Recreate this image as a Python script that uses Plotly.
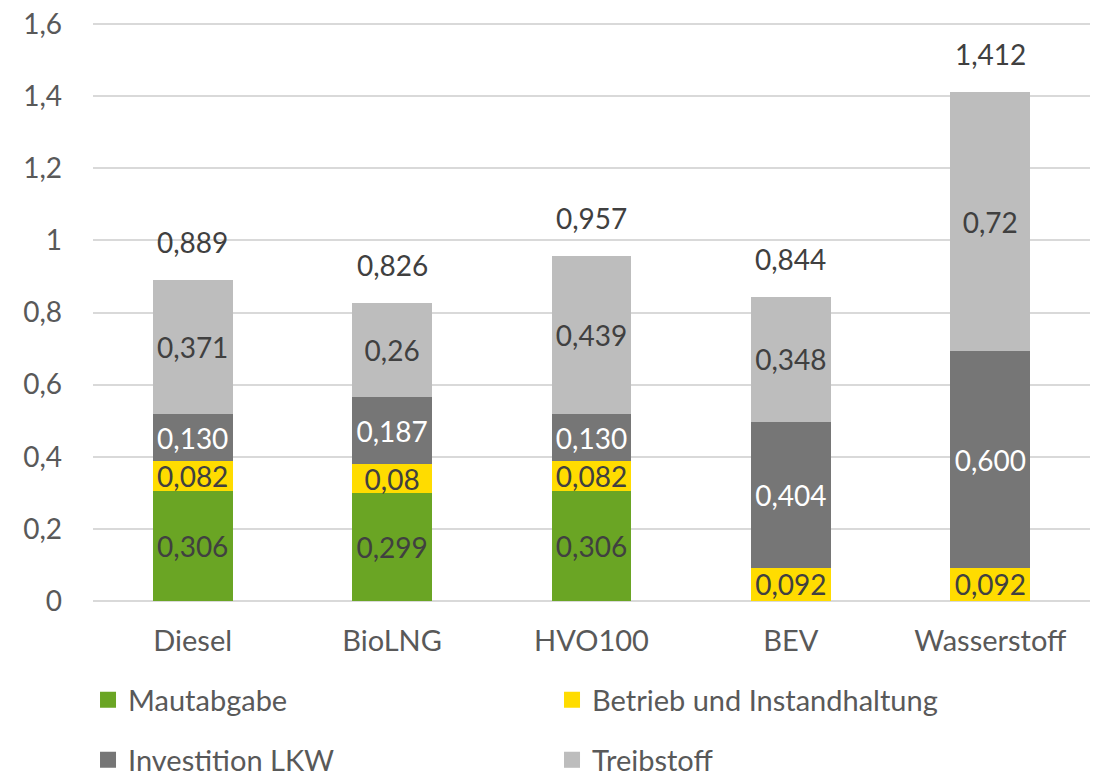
import plotly.graph_objects as go

categories = ["Diesel", "BioLNG", "HVO100", "BEV", "Wasserstoff"]
maut = [0.306, 0.299, 0.306, 0, 0]
betrieb = [0.082, 0.08, 0.082, 0.092, 0.092]
invest = [0.130, 0.187, 0.130, 0.404, 0.600]
treib = [0.371, 0.26, 0.439, 0.348, 0.72]
totals = [0.889, 0.826, 0.957, 0.844, 1.412]

maut_lbl = ["0,306", "0,299", "0,306", "", ""]
betrieb_lbl = ["0,082", "0,08", "0,082", "0,092", "0,092"]
invest_lbl = ["0,130", "0,187", "0,130", "0,404", "0,600"]
treib_lbl = ["0,371", "0,26", "0,439", "0,348", "0,72"]
total_lbl = ["0,889", "0,826", "0,957", "0,844", "1,412"]

y_tickvals = [0, 0.2, 0.4, 0.6, 0.8, 1.0, 1.2, 1.4, 1.6]
y_ticktext = ["0", "0,2", "0,4", "0,6", "0,8", "1", "1,2", "1,4", "1,6"]

FONT = "Lato"
fs = 28      # numbers
fs_txt = 29  # words (categories, legend)

series = [
    ("Mautabgabe", maut, maut_lbl, "#6AA524", "#404040", "legend"),
    ("Betrieb und Instandhaltung", betrieb, betrieb_lbl, "#FFDC00", "#404040", "legend"),
    ("Investition LKW", invest, invest_lbl, "#767676", "#FFFFFF", "legend2"),
    ("Treibstoff", treib, treib_lbl, "#BDBDBD", "#404040", "legend2"),
]

fig = go.Figure()
for name, vals, lbls, col, tcol, lg in series:
    fig.add_trace(go.Bar(
        x=categories, y=vals, name=name, marker=dict(color=col, line=dict(width=0)),
        text=lbls, textposition="inside", insidetextanchor="middle",
        textangle=0, constraintext="none",
        textfont=dict(family=FONT, size=fs, color=tcol),
        hoverinfo="skip", showlegend=False,
    ))
    fig.add_trace(go.Scatter(
        x=[None], y=[None], mode="markers", name=name, legend=lg,
        marker=dict(symbol="square", size=17, color=col),
        hoverinfo="skip",
    ))

for cat, tot, lbl in zip(categories, totals, total_lbl):
    fig.add_annotation(x=cat, y=tot, text=lbl, showarrow=False,
                       yanchor="middle", yshift=38,
                       font=dict(family=FONT, size=fs, color="#404040"))

legend_common = dict(
    orientation="h", xanchor="left", yanchor="middle",
    entrywidth=419, entrywidthmode="pixels",
    font=dict(family=FONT, size=fs_txt, color="#595959"),
    traceorder="normal", itemsizing="trace",
    bgcolor="rgba(0,0,0,0)",
)

fig.update_layout(
    barmode="stack", bargap=0.6,
    width=1096, height=766,
    margin=dict(l=85, r=14, t=15, b=173, autoexpand=False),
    paper_bgcolor="white", plot_bgcolor="white",
    font=dict(family=FONT, size=fs, color="#595959"),
    uniformtext=dict(mode="show", minsize=fs),
    legend=dict(x=-0.005, y=-0.171, **legend_common),
    legend2=dict(x=-0.005, y=-0.275, **legend_common),
    showlegend=True,
)
fig.update_yaxes(range=[0, 1.603], tickvals=y_tickvals, ticktext=y_ticktext,
                 showgrid=True, gridcolor="#D9D9D9", gridwidth=2,
                 zeroline=True, zerolinecolor="#D9D9D9", zerolinewidth=2,
                 ticklabelstandoff=30, ticklabeloverflow="allow", showline=False,
                 tickfont=dict(family=FONT, size=fs, color="#595959"))
fig.update_xaxes(showline=False, ticks="", ticklabelstandoff=20,
                 tickfont=dict(family=FONT, size=fs_txt, color="#595959"))
fig.write_html("out.html")
